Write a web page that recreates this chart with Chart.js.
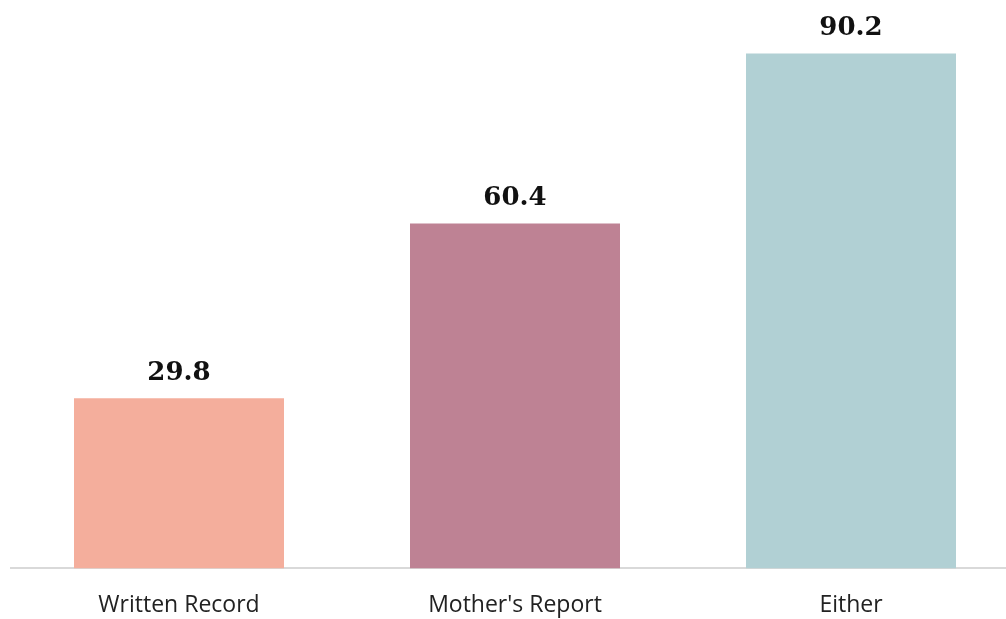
<!DOCTYPE html>
<html>
<head>
<meta charset="utf-8">
<script src="https://cdn.jsdelivr.net/npm/chart.js@4"></script>
<style>
  html, body { margin: 0; padding: 0; background: #fff; overflow: hidden; }
  #wrap { position: relative; width: 1019px; height: 619px; }
</style>
</head>
<body>
<div id="wrap"><canvas id="bars"></canvas></div>
<script>
const categories = ['Written Record', "Mother's Report", 'Either'];
const values = [29.8, 60.4, 90.2];
const barColors = ['#f4ae9c', '#be8294', '#b1d0d4'];

// value above each bar, bold serif
const valueLabels = {
  id: 'valueLabels',
  afterDatasetsDraw(chart) {
    const ctx = chart.ctx;
    const meta = chart.getDatasetMeta(0);
    ctx.save();
    ctx.font = 'bold 26px "DejaVu Serif"';
    ctx.fillStyle = '#111';
    ctx.textAlign = 'center';
    ctx.textBaseline = 'bottom';
    meta.data.forEach((bar, i) => {
      ctx.fillText(values[i].toFixed(1), bar.x, bar.y - 12);
    });
    ctx.restore();
  }
};

new Chart(document.getElementById('bars'), {
  type: 'bar',
  data: {
    labels: categories,
    datasets: [{ data: values, backgroundColor: barColors, borderWidth: 0, categoryPercentage: 1, barPercentage: 0.625 }]
  },
  options: {
    responsive: true,
    maintainAspectRatio: false,
    animation: false,
    layout: { padding: { left: 11, right: 0, top: 26, bottom: -23 } },
    plugins: { legend: { display: false }, tooltip: { enabled: false } },
    scales: {
      x: {
        grid: { display: false, drawTicks: false },
        border: { color: '#d9d9d9', width: 2 },
        ticks: { color: '#222', padding: 23, font: { family: '"Open Sans"', size: 23 } }
      },
      y: { display: false, min: 0, max: 95 }
    }
  },
  plugins: [valueLabels]
});
</script>
</body>
</html>
